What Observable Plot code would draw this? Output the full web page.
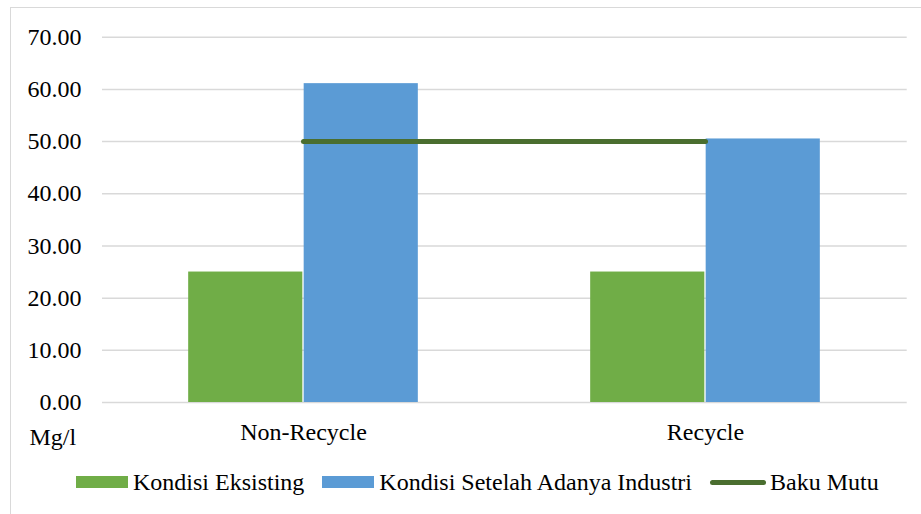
<!DOCTYPE html>
<html>
<head>
<meta charset="utf-8">
<script src="https://cdn.jsdelivr.net/npm/d3@7"></script>
<script src="https://cdn.jsdelivr.net/npm/@observablehq/plot@0.6"></script>
<style>
  body { margin: 0; background: #fff; font-family: 'Liberation Serif', serif; }
  #wrap { position: relative; width: 921px; height: 514px; overflow: hidden; background: #fff; font-family: 'Liberation Serif', serif; }
  #frame { position: absolute; left: 10px; top: 7px; width: 960px; height: 560px; border: 1.5px solid #d9d9d9; box-sizing: border-box; }
  #chart { position: absolute; left: 0; top: 0; }
  #legend { position: absolute; left: 76px; top: 470px; display: flex; align-items: center; font-size: 24px; line-height: 24px; color: #000; white-space: nowrap; font-family: 'Liberation Serif', serif; }
  #legend .sw { display: inline-block; width: 52px; height: 12px; margin-right: 5px; }
  #legend .ln { display: inline-block; width: 56px; height: 5px; border-radius: 3px; margin-right: 4px; }
  #legend .lab { margin-right: 18px; }
</style>
</head>
<body>
<div id="wrap">
  <div id="frame"></div>
  <div id="chart"></div>
  <div id="legend"></div>
</div>
<script>
// Categories and series values (Mg/l)
const categories = ["Non-Recycle", "Recycle"];
const existing = [25.0, 25.0];
const afterIndustry = [61.1, 50.5];
const bakuMutu = [50, 50];
const yTicks = [0, 10, 20, 30, 40, 50, 60, 70];
const seriesNames = ["Kondisi Eksisting", "Kondisi Setelah Adanya Industri", "Baku Mutu"];
const unitLabel = "Mg/l";

const colors = { existing: "#70ad47", after: "#5b9bd5", baku: "#4a6e2f" };

const W = 921, H = 460;
const mLeft = 102, mRight = 14.3, mTop = 36.7, mBottom = 58;
const bandW = (W - mLeft - mRight) / categories.length;
const barW = 115;
const outer = bandW / 2 - barW;

const rowsExisting = categories.map((c, i) => ({ category: c, value: existing[i] }));
const rowsAfter = categories.map((c, i) => ({ category: c, value: afterIndustry[i] }));
const rowsBaku = categories.map((c, i) => ({ category: c, value: bakuMutu[i] }));

const chart = Plot.plot({
  width: W,
  height: H,
  marginLeft: mLeft,
  marginRight: mRight,
  marginTop: mTop,
  marginBottom: mBottom,
  style: { fontFamily: "Liberation Serif", fontSize: "24px", color: "#000", background: "transparent" },
  x: { type: "band", domain: categories, padding: 0 },
  y: { domain: [0, 70] },
  marks: [
    Plot.ruleY(yTicks, { stroke: "#d9d9d9", strokeWidth: 1.5 }),
    Plot.barY(rowsExisting, { x: "category", y: "value", fill: colors.existing, insetLeft: outer, insetRight: bandW / 2 + 0.5 }),
    Plot.barY(rowsAfter, { x: "category", y: "value", fill: colors.after, insetLeft: bandW / 2 + 0.5, insetRight: outer }),
    Plot.line(rowsBaku, { x: "category", y: "value", stroke: colors.baku, strokeWidth: 5, strokeLinecap: "round" }),
    Plot.axisY({ ticks: yTicks, tickFormat: d => d.toFixed(2), tickSize: 0, tickPadding: 21, label: null, fontSize: 24 }),
    Plot.axisX({ tickSize: 0, tickPadding: 20, label: null, fontSize: 24 }),
    Plot.text([unitLabel], { text: d => d, frameAnchor: "bottom-left", textAnchor: "start", dx: -73, dy: 42, fontSize: 24, fill: "#000" })
  ]
});
document.getElementById("chart").appendChild(chart);

// Legend below the plot
const legend = document.getElementById("legend");
const legendItems = [
  { name: seriesNames[0], kind: "sw", color: colors.existing },
  { name: seriesNames[1], kind: "sw", color: colors.after },
  { name: seriesNames[2], kind: "ln", color: colors.baku }
];
for (const item of legendItems) {
  const s = document.createElement("span");
  s.className = item.kind;
  s.style.background = item.color;
  legend.appendChild(s);
  const t = document.createElement("span");
  t.className = "lab";
  t.textContent = item.name;
  legend.appendChild(t);
}
</script>
</body>
</html>
